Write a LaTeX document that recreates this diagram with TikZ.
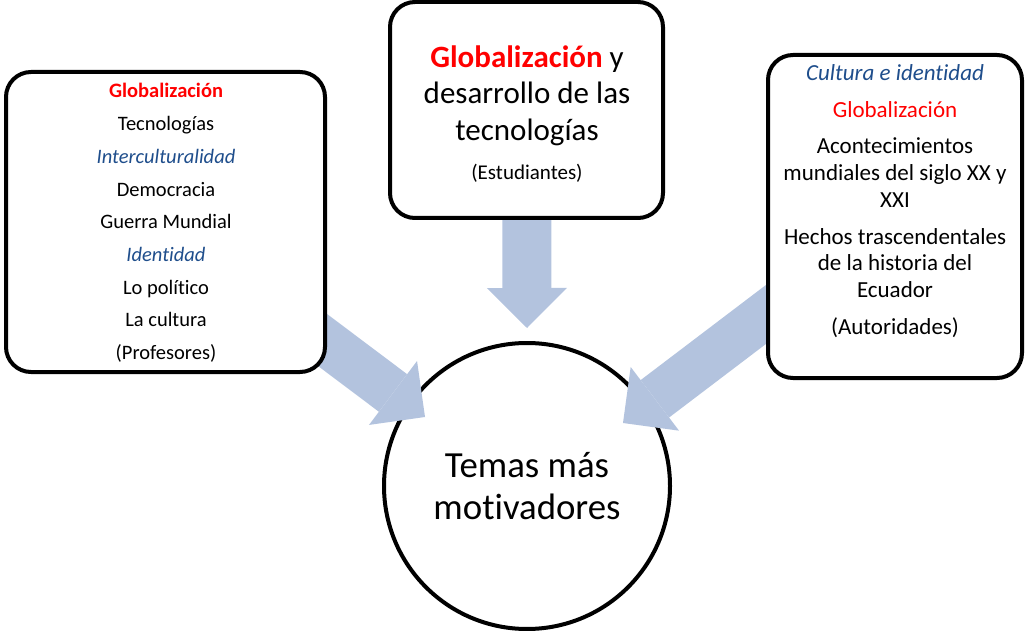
\documentclass[tikz,border=0pt]{standalone}
\usepackage{fontspec}
\setmainfont[Ligatures=NoCommon]{Carlito}
\usepackage{xcolor}
\usetikzlibrary{positioning,arrows.meta,shapes.geometric}
\definecolor{redtxt}{HTML}{FF0000}
\definecolor{bluetxt}{HTML}{1F4E8C}
\definecolor{arrowblue}{HTML}{B3C3DE}
\pgfdeclarelayer{back}
\pgfdeclarelayer{arrows}
\pgfsetlayers{back,arrows,main}
\newcommand{\nl}{\kern0pt}% keeps t and i apart

\begin{document}
\begin{tikzpicture}[x=1pt, y=-1pt,
  panel/.style={draw, line width=4pt, rounded corners=25pt, fill=white,
                inner sep=0pt},
  bigarrow/.style={line width=47pt, draw=arrowblue,
                   -{Triangle[length=40pt, width=80pt, line width=0pt]}},
  topic/.style={draw, circle, line width=4pt, fill=white, align=center,
                minimum size=286pt, inner sep=0pt}
]
\useasboundingbox (0,0) rectangle (1026,631);
% the three boxes
\node[panel, minimum width=319pt, minimum height=300pt] (lbox) at (165.5,222) {};
\node[panel, minimum width=273pt, minimum height=216pt] (mbox) at (526.5,110) {};
\node[panel, minimum width=254pt, minimum height=323pt] (rbox) at (895,216.5) {};
% central circle
\begin{pgfonlayer}{back}
\node[topic, font=\fontsize{36.8}{42}\selectfont] (topics) at (527,486) {Temas más\\mot\nl ivadores};
\end{pgfonlayer}
\coordinate (ltip) at (425,417);
\coordinate (mtip) at (527,328);
\coordinate (rtip) at (623,423);
% arrows, under the boxes but over the circle
\begin{pgfonlayer}{arrows}
\draw[bigarrow] (lbox.center) -- (ltip);
\draw[bigarrow, line width=49pt] (mbox.center) -- (mtip);
\draw[bigarrow] (rbox.center) -- (rtip);
\end{pgfonlayer}
% texts
\node[align=center, font=\fontsize{20.5}{32.7}\selectfont] (ltext) at (166,223)
  {\textcolor{redtxt}{\textbf{Globalización}}\\Tecnologías\\\textit{\textcolor{bluetxt}{Interculturalidad}}\\Democracia\\Guerra Mundial\\\textit{\textcolor{bluetxt}{Ident\nl idad}}\\Lo polít\nl ico\\La cultura\\(Profesores)};
\node[align=center, font=\fontsize{31}{36.5}\selectfont] (mtext) at (527,114)
  {\textcolor{redtxt}{\textbf{Globalización}} y\\desarrollo de las\\tecnologías\\[3pt]{\fontsize{21}{25}\selectfont(Estudiantes)}};
\node[align=center, font=\fontsize{23}{26.7}\selectfont] (rtext) at (895,201)
  {\textit{\textcolor{bluetxt}{Cultura e ident\nl idad}}\\[10pt]\textcolor{redtxt}{Globalización}\\[10pt]Acontecimientos\\mundiales del siglo XX y\\XXI\\[10pt]Hechos trascendentales\\de la historia del\\Ecuador\\[10pt](Autoridades)};
\end{tikzpicture}
\end{document}
